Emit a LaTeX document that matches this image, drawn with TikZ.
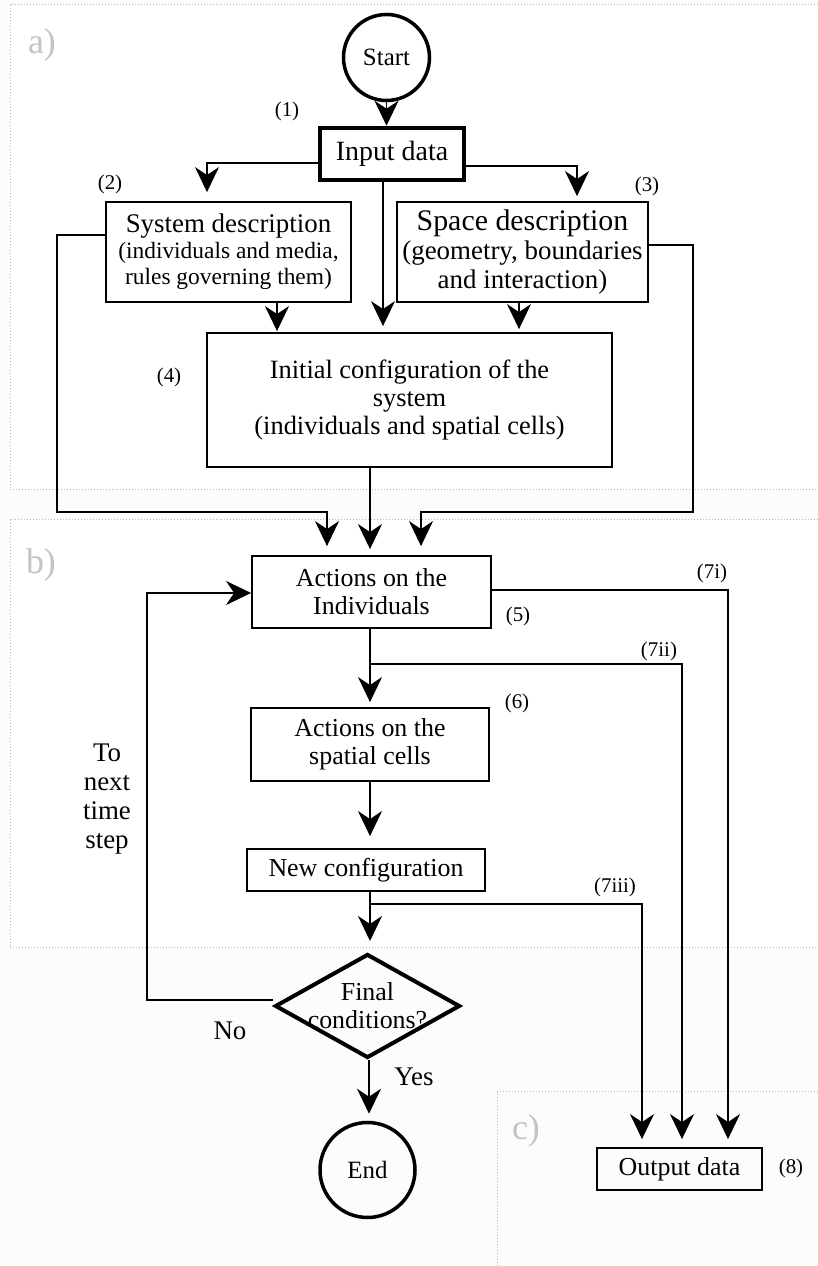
\documentclass[tikz,border=0pt]{standalone}
\usepackage{fontspec}
\setmainfont{Liberation Serif}
\usetikzlibrary{arrows.meta,shapes.geometric}
\definecolor{paper}{RGB}{252,252,250}
\definecolor{panelline}{RGB}{185,185,185}
\definecolor{panellabel}{RGB}{195,195,195}
\tikzset{
  box/.style={draw=black,rectangle,line width=1.8bp,align=center,inner sep=0pt,font=\fontsize{26}{28}\selectfont},
  term/.style={draw=black,circle,line width=3.5bp,inner sep=0pt,font=\fontsize{25}{28}\selectfont},
  test/.style={draw=black,diamond,aspect=1.78,line width=4bp,inner sep=-8bp,align=center,font=\fontsize{26}{28}\selectfont},
  flow/.style={-{Stealth[length=25bp,width=24bp,inset=8bp]},line width=1.8bp},
  num/.style={font=\fontsize{21}{24}\selectfont},
  note/.style={align=center,font=\fontsize{27}{29}\selectfont},
  panel/.style={panelline,dotted,line width=1bp},
  tag/.style={panellabel,font=\fontsize{36}{36}\selectfont},
}
\begin{document}
\begin{tikzpicture}[line join=miter]
%%
\useasboundingbox (0bp,0bp) rectangle (818bp,1266bp);
\fill[paper] (0bp,0bp) rectangle (818bp,1266bp);
\fill[white] (10bp,776bp) rectangle (818bp,1261bp);
\fill[white] (10bp,318bp) rectangle (818bp,746bp);
\draw[panel] (818bp,1261bp) -- (10bp,1261bp) -- (10bp,776bp) -- (818bp,776bp);
\draw[panel] (818bp,746bp) -- (10bp,746bp) -- (10bp,318bp) -- (818bp,318bp);
\draw[panel] (818bp,174bp) -- (497bp,174bp) -- (497bp,0bp);
\node (taga) at (42bp,1221bp) [tag] {a)};
\node (tagb) at (41bp,701bp) [tag] {b)};
\node (tagc) at (526bp,135bp) [tag] {c)};
%
\node (start) at (386.5bp,1208.5bp) [term,minimum size=86bp] {Start};
\node (input) at (392bp,1112bp) [box,line width=4.5bp,minimum width=144bp,minimum height=52bp,font=\fontsize{28}{30}\selectfont] {Input data};
\node (sysdesc) at (228.5bp,1014bp) [box,minimum width=245bp,minimum height=100bp,font=\fontsize{23.5}{26}\selectfont] {{\fontsize{27}{27}\selectfont System description}\\(individuals and media,\\rules governing them)};
\node (spacedesc) at (522.5bp,1014bp) [box,minimum width=251bp,minimum height=100bp,font=\fontsize{27}{29}\selectfont] {{\fontsize{30}{30}\selectfont Space description}\\(geometry, boundaries\\and interaction)};
\node (init) at (409.5bp,866bp) [box,minimum width=405bp,minimum height=134bp,font=\fontsize{26.5}{28}\selectfont] {Initial configuration of the\\system\\(individuals and spatial cells)};
\node (actind) at (371.5bp,674bp) [box,minimum width=239bp,minimum height=72bp] {Actions on the\\Individuals};
\node (actcell) at (370bp,521.5bp) [box,minimum width=238bp,minimum height=73bp] {Actions on the\\spatial cells};
\node (newconf) at (366bp,396bp) [box,minimum width=238bp,minimum height=42bp] {New configuration};
\node (final) at (367.5bp,260bp) [test,minimum width=185bp,minimum height=104bp] {Final\\conditions?};
\node (finish) at (367.5bp,96bp) [term,minimum size=95bp] {End};
\node (output) at (679.5bp,97bp) [box,minimum width=165bp,minimum height=42bp] {Output data};
%
\node (n1) at (287bp,1155bp) [num] {(1)};
\node (n2) at (110bp,1082bp) [num] {(2)};
\node (n3) at (647bp,1080bp) [num] {(3)};
\node (n4) at (169bp,889bp) [num] {(4)};
\node (n5) at (518bp,650bp) [num] {(5)};
\node (n6) at (517bp,563bp) [num] {(6)};
\node (n7i) at (712bp,693bp) [num] {(7i)};
\node (n7ii) at (659bp,615bp) [num] {(7ii)};
\node (n7iii) at (615bp,379bp) [num] {(7iii)};
\node (n8) at (791bp,98bp) [num] {(8)};
\node (tonext) at (107bp,467bp) [note] {To\\next\\time\\step};
\node (no) at (230bp,235bp) [note] {No};
\node (yes) at (414bp,189bp) [note] {Yes};
%
\coordinate (lbend) at (57bp,754bp);
\coordinate (rbend) at (693bp,754bp);
\coordinate (split1) at (370bp,602bp);
\coordinate (split2) at (370bp,362bp);
\coordinate (loopc) at (147bp,673bp);
%
\draw [flow] (start.south) -- (start.south |- input.north);
\draw [flow,shorten >=9bp] ([yshift=-9bp]input.west) -| ([xshift=-21.5bp]sysdesc.north);
\draw [flow,shorten >=5bp] ([yshift=-12bp]input.east) -| ([xshift=54.5bp]spacedesc.north);
\draw [flow,shorten >=6bp] ([xshift=-9bp]input.south) -- ([xshift=-26.5bp]init.north);
\draw [flow,shorten >=1bp] ([xshift=48.5bp]sysdesc.south) -- ([xshift=-132.5bp]init.north);
\draw [flow,shorten >=3bp] ([xshift=-3.5bp]spacedesc.south) -- ([xshift=109.5bp]init.north);
\draw [flow,shorten >=9bp] ([yshift=17bp]sysdesc.west) -| (lbend) -| ([xshift=-44.5bp]actind.north);
\draw [flow,shorten >=9bp] ([yshift=7bp]spacedesc.east) -| (rbend) -| ([xshift=49.5bp]actind.north);
\draw [flow,shorten >=6bp] ([xshift=-39.5bp]init.south) -- ([xshift=-1.5bp]actind.north);
\draw [flow,shorten >=5bp] ([xshift=-1.5bp]actind.south) -- (actcell.north);
\draw [flow,shorten >=12bp] (actcell.south) -- ([xshift=4bp]newconf.north);
\draw [flow,shorten >=11bp] ([xshift=4bp]newconf.south) -- ([xshift=2.5bp]final.north);
\draw [flow,shorten >=7bp] ([xshift=1.5bp]final.south) -- ([xshift=1.5bp]finish.north);
\draw [flow] ([yshift=6bp]final.west) -| (loopc) -- (loopc -| actind.west);
\draw [flow,shorten >=8bp] ([yshift=2bp]actind.east) -| ([xshift=48.5bp]output.north);
\draw [flow,shorten >=8bp] (split1) -| ([xshift=2.5bp]output.north);
\draw [flow,shorten >=8bp] (split2) -| ([xshift=-37.5bp]output.north);
%
\end{tikzpicture}
\end{document}
